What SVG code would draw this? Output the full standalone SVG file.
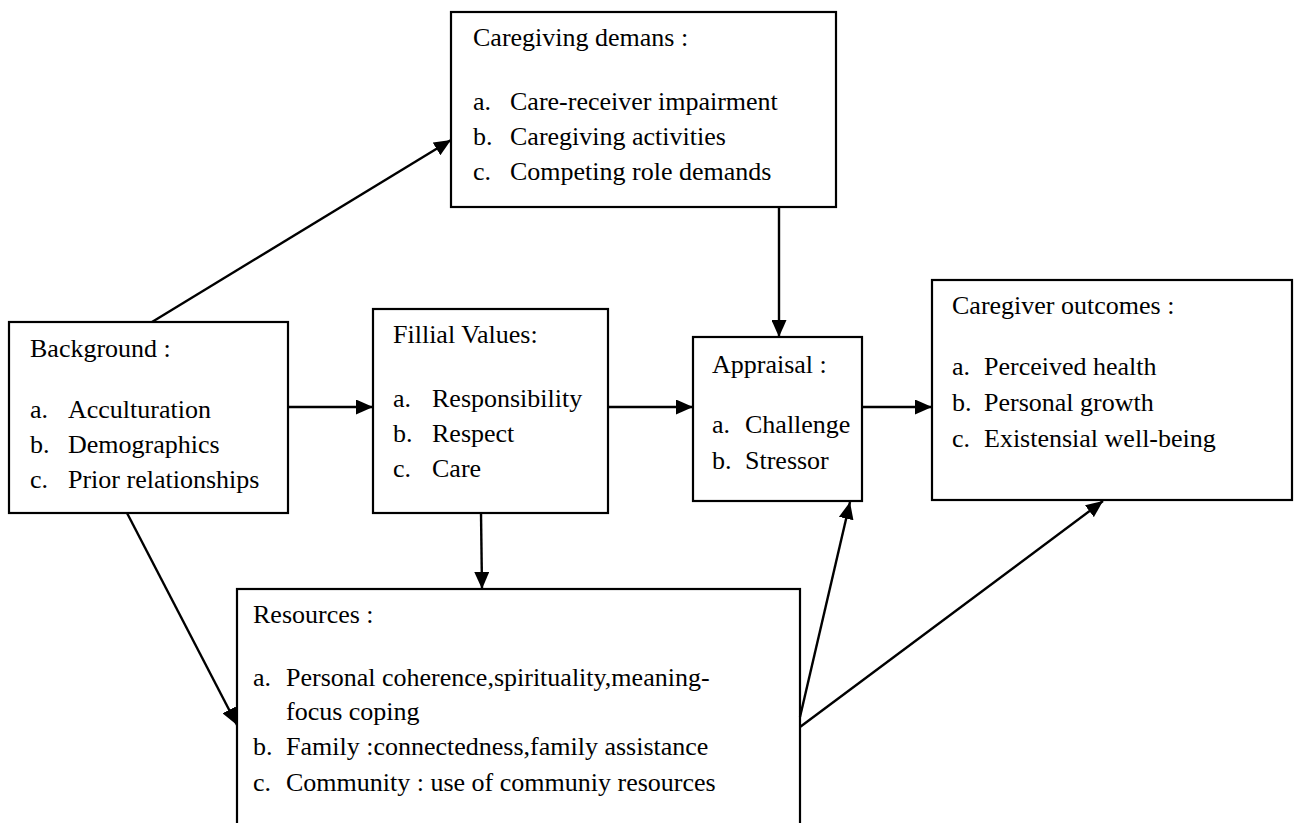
<svg xmlns="http://www.w3.org/2000/svg" width="1297" height="823" viewBox="0 0 1297 823">
<defs>
<marker id="arr" markerUnits="userSpaceOnUse" markerWidth="17" markerHeight="15" viewBox="0 0 17 15" refX="17" refY="7.5" orient="auto"><path d="M0,0 L17,7.5 L0,15 Z" fill="#000"/></marker>
</defs>
<style>
.box{fill:#fff;stroke:#000;stroke-width:2.2}
.t{font-family:"Liberation Serif","Times New Roman",serif;font-size:26px;fill:#000}
.c line{stroke:#000;stroke-width:2.4;marker-end:url(#arr)}
</style>
<rect width="1297" height="823" fill="#fff"/>
<g id="caregiving">
<rect class="box" x="451" y="12" width="385" height="195"/>
<text class="t" x="473" y="46">Caregiving demans :</text>
<text class="t" x="473" y="110">a.</text><text class="t" x="510" y="110">Care-receiver impairment</text>
<text class="t" x="473" y="145">b.</text><text class="t" x="510" y="145">Caregiving activities</text>
<text class="t" x="473" y="180">c.</text><text class="t" x="510" y="180">Competing role demands</text>
</g>
<g id="background">
<rect class="box" x="9" y="322" width="279" height="191"/>
<text class="t" x="30" y="357">Background :</text>
<text class="t" x="30" y="418">a.</text><text class="t" x="68" y="418">Acculturation</text>
<text class="t" x="30" y="453">b.</text><text class="t" x="68" y="453">Demographics</text>
<text class="t" x="30" y="488">c.</text><text class="t" x="68" y="488">Prior relationships</text>
</g>
<g id="fillial">
<rect class="box" x="373" y="309" width="235" height="204"/>
<text class="t" x="393" y="343">Fillial Values:</text>
<text class="t" x="393" y="407">a.</text><text class="t" x="432" y="407">Responsibility</text>
<text class="t" x="393" y="442">b.</text><text class="t" x="432" y="442">Respect</text>
<text class="t" x="393" y="477">c.</text><text class="t" x="432" y="477">Care</text>
</g>
<g id="appraisal">
<rect class="box" x="693" y="337" width="169" height="164"/>
<text class="t" x="712" y="373">Appraisal :</text>
<text class="t" x="712" y="433">a.</text><text class="t" x="745" y="433">Challenge</text>
<text class="t" x="712" y="469">b.</text><text class="t" x="745" y="469">Stressor</text>
</g>
<g id="outcomes">
<rect class="box" x="932" y="280" width="360" height="220"/>
<text class="t" x="952" y="314">Caregiver outcomes :</text>
<text class="t" x="952" y="375">a.</text><text class="t" x="984" y="375">Perceived health</text>
<text class="t" x="952" y="411">b.</text><text class="t" x="984" y="411">Personal growth</text>
<text class="t" x="952" y="447">c.</text><text class="t" x="984" y="447">Existensial well-being</text>
</g>
<g id="resources">
<rect class="box" x="237" y="589" width="563" height="250"/>
<text class="t" x="253" y="623">Resources :</text>
<text class="t" x="253" y="686">a.</text><text class="t" x="286" y="686">Personal coherence,spirituality,meaning-</text>
<text class="t" x="286" y="720">focus coping</text>
<text class="t" x="253" y="755">b.</text><text class="t" x="286" y="755">Family :connectedness,family assistance</text>
<text class="t" x="253" y="791">c.</text><text class="t" x="286" y="791">Community : use of communiy resources</text>
</g>
<g id="connectors" class="c">
<line x1="152" y1="322" x2="451" y2="140"/>
<line x1="779" y1="207" x2="779" y2="337"/>
<line x1="288" y1="407" x2="373" y2="407"/>
<line x1="608" y1="407" x2="693" y2="407"/>
<line x1="862" y1="407" x2="932" y2="407"/>
<line x1="127" y1="513" x2="237" y2="725"/>
<line x1="481" y1="513" x2="482" y2="589"/>
<line x1="800" y1="717" x2="850" y2="502"/>
<line x1="800" y1="727" x2="1103" y2="501"/>
</g>
</svg>
